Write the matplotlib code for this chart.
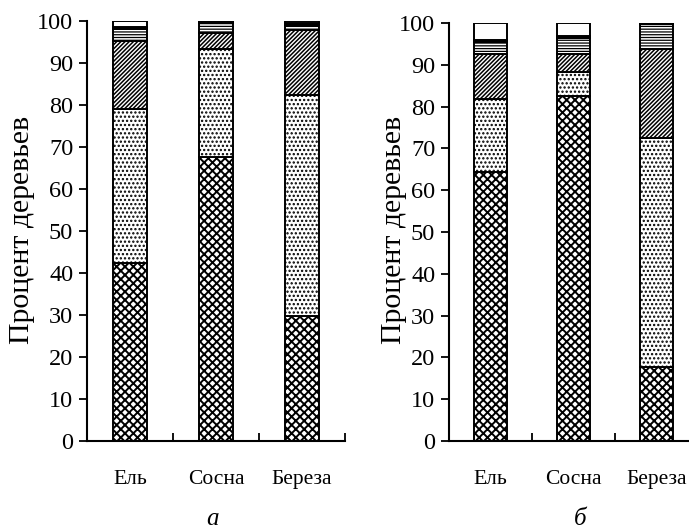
import numpy as np
import matplotlib.pyplot as plt

plt.rcParams['font.family'] = ['Liberation Serif', 'DejaVu Serif']
plt.rcParams['hatch.linewidth'] = 1.0

species = ['Ель', 'Сосна', 'Береза']

# доли по классам (снизу вверх), панель а
a_cross = [42.3, 67.5, 29.7]
a_dots = [36.7, 25.8, 52.6]
a_diag = [16.2, 3.8, 15.4]
a_lines = [2.8, 2.4, 1.3]
a_black = [0.5, 0.3, 0.4]
a_white = [1.5, 0.2, 0.6]

# панель б
b_cross = [64.3, 82.5, 17.8]
b_dots = [17.5, 5.8, 54.8]
b_diag = [10.9, 4.4, 21.1]
b_lines = [2.8, 3.7, 6.1]
b_black = [0.5, 0.5, 0.0]
b_white = [4.0, 3.1, 0.2]

styles = [
    ('xxxx', 'white', 1.4),
    ('....', 'white', 1.1),
    ('////////', 'white', 1.1),
    ('------', 'white', 0.9),
    ('', 'black', 1.0),
    ('', 'white', 1.0),
]


def draw_panel(ax, series, xmax):
    x = np.arange(len(species))
    bottom = np.zeros(len(species))
    for vals, (hatch, face, hlw) in zip(series, styles):
        vals = np.array(vals)
        with plt.rc_context({'hatch.linewidth': hlw}):
            bars = ax.bar(x, vals, 0.4, bottom=bottom, color=face,
                          edgecolor='black', hatch=hatch, linewidth=1.4)
        for b in bars:
            if hasattr(b, 'set_hatch_linewidth'):
                b.set_hatch_linewidth(hlw)
        bottom += vals

    ax.set_xlim(-0.5, xmax)
    ax.set_ylim(0, 100)
    ax.set_yticks(range(0, 101, 10))
    ax.set_xticks(x)
    ax.set_xticklabels(species, fontsize=15.5)
    ax.set_xticks([0.5, 1.5, 2.5], minor=True)
    ax.tick_params(axis='x', which='major', length=0, pad=21)
    ax.tick_params(axis='x', which='minor', direction='in', length=6, width=1.3)
    ax.tick_params(axis='y', direction='out', length=6, width=1.3,
                   labelsize=17.5, pad=4)
    for s in ['top', 'right']:
        ax.spines[s].set_visible(False)
    for s in ['left', 'bottom']:
        ax.spines[s].set_linewidth(1.5)


fig = plt.figure(figsize=(6.89, 5.31), dpi=100)

ax1 = fig.add_axes([0.1263, 0.1695, 0.3745, 0.7915])
draw_panel(ax1, [a_cross, a_dots, a_diag, a_lines, a_black, a_white], 2.5)

ax2 = fig.add_axes([0.6517, 0.1695, 0.3614, 0.7870])
draw_panel(ax2, [b_cross, b_dots, b_diag, b_lines, b_black, b_white], 2.5)

fig.text(0.032, 0.567, 'Процент деревьев', rotation=90, fontsize=21.5,
         ha='center', va='center')
fig.text(0.572, 0.567, 'Процент деревьев', rotation=90, fontsize=21.5,
         ha='center', va='center')
fig.text(0.308, 0.022, 'а', fontsize=18, style='italic', ha='center', va='center')
fig.text(0.842, 0.022, 'б', fontsize=18, style='italic', ha='center', va='center')

fig.savefig('out.png', dpi=100)
